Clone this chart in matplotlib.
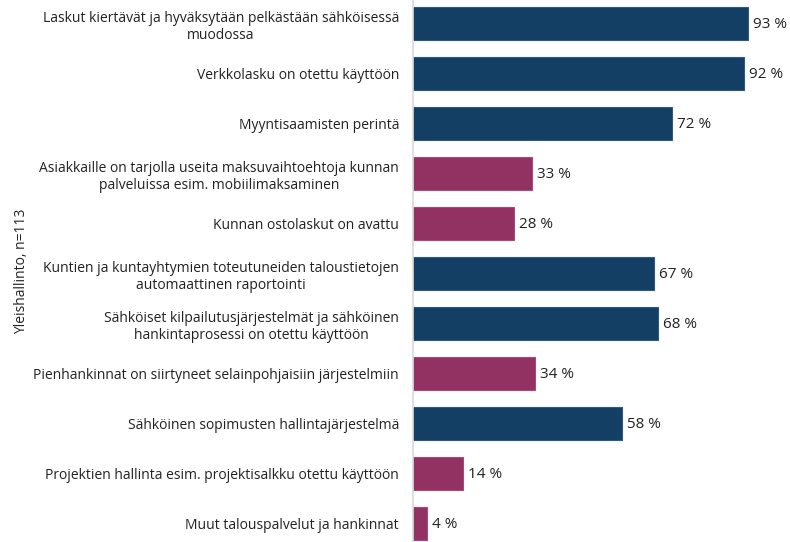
import matplotlib.pyplot as plt

plt.rcParams['font.family'] = ['Open Sans', 'DejaVu Sans']

categories = [
    "Laskut kiertävät ja hyväksytään pelkästään sähköisessä\nmuodossa",
    "Verkkolasku on otettu käyttöön",
    "Myyntisaamisten perintä",
    "Asiakkaille on tarjolla useita maksuvaihtoehtoja kunnan\npalveluissa esim. mobiilimaksaminen",
    "Kunnan ostolaskut on avattu",
    "Kuntien ja kuntayhtymien toteutuneiden taloustietojen\nautomaattinen raportointi",
    "Sähköiset kilpailutusjärjestelmät ja sähköinen\nhankintaprosessi on otettu käyttöön",
    "Pienhankinnat on siirtyneet selainpohjaisiin järjestelmiin",
    "Sähköinen sopimusten hallintajärjestelmä",
    "Projektien hallinta esim. projektisalkku otettu käyttöön",
    "Muut talouspalvelut ja hankinnat",
]
values = [93, 92, 72, 33, 28, 67, 68, 34, 58, 14, 4]
groups = ["b", "b", "b", "m", "m", "b", "b", "m", "b", "m", "m"]

colors = {"b": "#123f63", "m": "#923262"}
edges = {"b": "#2d5a82", "m": "#a8497a"}

fig = plt.figure(figsize=(7.9, 5.42), dpi=100)
ax = fig.add_axes([413 / 790, 0, 360 / 790, 1])

y = list(range(len(categories)))
ax.barh(y, values, height=0.66,
        color=[colors[g] for g in groups],
        edgecolor=[edges[g] for g in groups], linewidth=0.8)

for yi, v in zip(y, values):
    ax.text(v + 1.4, yi + 0.02, f"{v} %", va="center", ha="left",
            fontsize=11, color="#222222")

ax.set_xlim(0, 100)
ax.set_ylim(10.37, -0.47)
ax.set_yticks(y)
ax.set_yticklabels(categories, fontsize=10, color="#222222")
for lab in ax.get_yticklabels():
    lab.set_multialignment("center")
ax.tick_params(axis="y", length=0, pad=10)
ax.set_xticks([])

for s in ["top", "right", "bottom"]:
    ax.spines[s].set_visible(False)
ax.spines["left"].set_color("#d9d9d9")
ax.spines["left"].set_linewidth(1.2)

fig.text(22 / 790, 0.5, "Yleishallinto, n=113", rotation=90,
         va="center", ha="center", fontsize=10, color="#222222")

fig.savefig("out.png", dpi=100)
